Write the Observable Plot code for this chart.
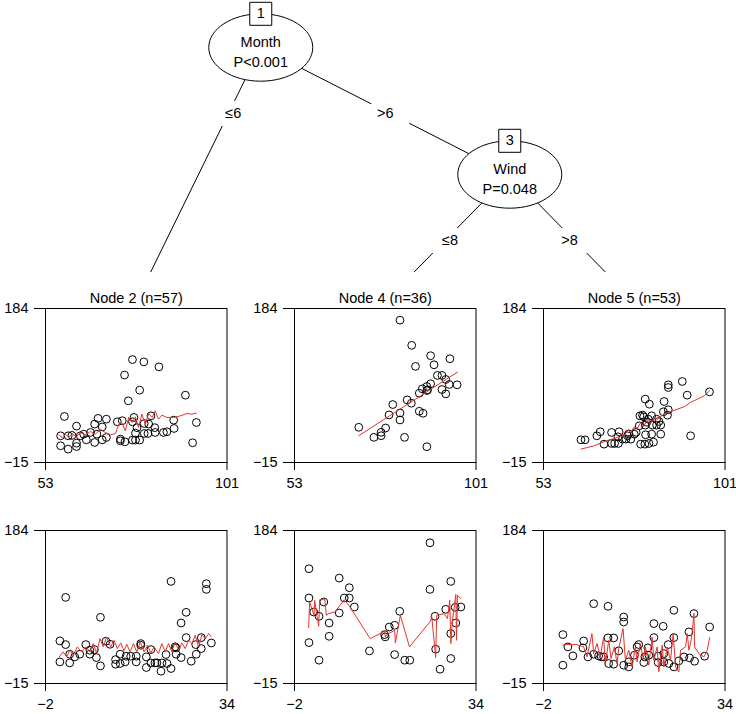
<!DOCTYPE html>
<html><head><meta charset="utf-8">
<script src="https://cdn.jsdelivr.net/npm/d3@7"></script>
<script src="https://cdn.jsdelivr.net/npm/@observablehq/plot@0.6"></script>
<style>
body{margin:0;background:white;}
#fig{position:relative;width:736px;height:714px;overflow:hidden;background:white;font-family:"Liberation Sans",Arial,Helvetica,sans-serif;}
.layer{position:absolute;}
</style></head><body><div id="fig"></div>
<script>
// ---------- tree structure ----------
const innerNodes = [
  {id: 1, col: 0.5, depth: 0, variable: "Month", p: "P<0.001"},
  {id: 3, col: 1.5, depth: 1, variable: "Wind", p: "P=0.048"}
];
const terminalNodes = [
  {id: 2, col: 0, n: 57},
  {id: 4, col: 1, n: 36},
  {id: 5, col: 2, n: 53}
];
const edges = [
  {from: 1, to: 2, label: "≤6"},
  {from: 1, to: 3, label: ">6"},
  {from: 3, to: 4, label: "≤8"},
  {from: 3, to: 5, label: ">8"}
];

// ---------- axes ----------
const ozoneTicks = [-15, 184];
const tempTicks = [53, 101];
const dayTicks = [-2, 34];

// ---------- Node 2 ----------
const node2Temp = [57,59,58,61.2,57,59,61.2,61.2,62.2,63.8,64.9,66,66.9,68,66,68,69.1,69.1,72,72.8,74,72.8,73.9,74.9,76,79,83,77.9,76,76.8,76,76.8,77.9,77.2,79.1,79.1,80.1,82,81.9,80.9,84.2,85.1,86.9,87,90,92.9,91.9,76.4,60,63.1,66.6,73.3,80.3];
const node2TempOzone = [19.5,19.5,44.5,32,6.6,2.3,5.7,10,19.5,14.3,23.8,34.6,42,31,10.9,14.3,17.3,41,37.6,13,11.7,15.2,98,64.7,118,115,108.6,78.5,37.6,23,14,14,14,30,35.4,22.5,22.5,23.8,30,45.3,23.8,24.7,39.7,29,72,36.7,10.5,43.2,20,21.6,21.6,39,34.6];
const node2FitTemp = [56.5,57.4,58.3,59.2,60,61.2,62.2,63.6,64.9,66.2,67.5,68.8,70.2,71.5,72.4,73.2,74.1,75,75.9,76.8,77.6,78.5,79.4,80.3,81.2,82,82.9,83.8,85.1,86.9,88.7,90.4,91.7,92.9];
const node2FitTempOzone = [20.8,17.3,21.6,17.3,22.5,18.2,23.8,20.8,25.1,21.6,28.1,23.8,20.8,22.5,34.6,36.7,25.9,43.2,36.7,44,30.3,47.5,34.6,48.3,43.2,51.8,41,46.2,43.2,43.2,45.3,48.3,47.5,48.8];
const node2Day = [0.85,2,2,0.85,2.8,2.8,3.8,4.8,6,6.8,6.8,7.7,8.1,8.9,8.9,10,10.8,11.9,11.9,12.8,12.8,13.8,14,14.9,16,16,16.9,16.9,18,18,18.9,18.9,19.7,20.1,20.9,21.1,21.9,22.1,22.9,22.9,23.7,23.9,24.9,25.9,24.9,25.9,26.9,27.8,27.9,28.9,28.9,29.9,29.9,30.9,23.9];
const node2DayOzone = [40.4,35.6,97,13.1,11.8,23.1,19.6,23.1,35.6,28.3,23.1,29.1,18.7,7.9,71.1,40,36,16.1,10.1,11,23.1,13.1,20.5,20.5,20.5,13.1,36.9,34.8,19.6,5.8,29.1,11.8,11.8,11.8,1,11.8,22.7,11,4.5,117.8,32.6,23.1,63.7,77.6,18.7,44.7,14,35.6,23.1,30.4,44.7,114.8,107.4,37.7,31.3];
const node2FitDay = [0.72,1.51,2.18,2.84,3.5,4.3,5.16,6.02,6.82,7.48,8.14,8.81,9.47,10.13,10.93,11.59,12.25,12.92,13.58,14.11,14.77,15.44,16.1,16.76,17.56,18.22,18.88,19.55,20.41,21.07,21.74,22.4,23.06,23.72,24.39,25.05,25.71,26.38,27.04,27.7,28.37,29.03,29.69,30.35,30.88];
const node2FitDayOzone = [19.6,26.1,19.6,28.3,21.8,32.6,26.1,32.6,26.1,36.9,24.8,43.4,32.6,45.6,32.6,41.2,30.4,37.8,27.4,36.1,26.1,36.9,26.1,39.1,26.1,34.8,24.8,32.6,23.9,36.9,26.1,36.9,26.1,39.1,28.3,37.8,30.4,41.2,36.9,47.7,32.6,48.6,43.4,49.9,45.6];

// ---------- Node 4 ----------
const node4Temp = [70,74,75.9,75.9,77.1,82.1,88,78,79,80.9,80.9,82.8,83.9,86,87,86,86.8,88,88,89,92,93,93.9,96,92,93,90.8,85,89.9,89,94.1,84,80.9,88.2];
const node4TempOzone = [30.5,17.5,19.6,24,29.6,17.5,5.4,46.5,59.9,49,40,65.9,61.6,51.2,48.6,74.6,80.2,78,83.2,86.7,97.5,92.3,85.8,85.4,79.3,73.7,97.5,109.2,111.3,123,119.1,136.4,168.9,78.9];
const node4FitTemp = [70, 96.1];
const node4FitTempOzone = [19.6, 101.8];
const node4Day = [0.87,0.87,0.87,1.8,2.87,2.87,3.8,4.87,4.87,6.87,6.87,7.87,8.87,8.87,9.87,12.87,15.87,16,16.8,17.87,17.87,18.87,19.87,20.87,24.87,24.87,25.87,26,26.87,28,29,29,29,29.87,30,31];
const node4DayOzone = [134.3,96.2,38.2,78,72.4,15.3,91,63.7,46.4,122.1,76.7,96.2,109.6,96.2,84.5,27.4,48.6,45.6,58.5,60.7,22.6,78.9,15.3,15.3,168,107.4,72.4,29.6,3.6,81.5,117.8,49.9,17.5,84.1,63.7,84.5];
const node4FitDay = [0.8,1,1.87,2,2.8,3,4,4.33,4.8,6,7.87,9,13,15.87,16,16.33,17.87,18,19,20.8,25,25.2,26,26.2,27.67,28.33,28.8,29,29.33,30,30.13,30.33,31];
const node4FitDayOzone = [57.7,91,73.7,93.2,59.4,94,94,73.7,75.9,78,94,84.5,43.4,52.9,45.6,48.6,54.2,37.8,73.7,32.6,66.3,73.7,18.7,73.7,75.9,69.4,93.2,36.9,67.2,100.9,41.2,99.6,95.3];

// ---------- Node 5 ----------
const node5Temp = [62.9,64,67.1,68,69,71,71,71.8,72.8,73,73.9,74.8,75.2,76.1,77,78.3,79.2,78.5,79.9,81,79.9,80.7,81.6,82.9,81.8,82.9,84,80,81.6,84,78.7,79.8,80.9,82.1,84.7,84.9,86,86,86,85.8,89.7,91,91.9,96.9,72.7,75.5,77.5,79.5,80.3,83.5];
const node5TempOzone = [14.3,14.3,19.5,24.7,8.7,23.8,9.6,9.6,9.6,24.7,15.2,15.2,19.5,15.2,21.6,32.4,46.2,45.3,66.9,60.4,33.3,41,45.3,41,33.3,33.3,33.3,20.8,21.6,21.6,8.7,8.7,9.6,11.3,50.5,63.8,53.1,81.9,85.4,46.2,89.7,72,19.5,76.3,18.2,22,24,44,37,38];
const node5FitTemp = [62.9,66.4,69.5,72.6,73.5,74.3,75.2,76.1,77,77.8,78.6,79.6,80.5,81.4,82.3,83.1,84.9,86.6,88.4,90.2,91.9,93.7,95.5,96.9];
const node5FitTempOzone = [2.3,6.6,13,17.3,22,19,27,24,31,29,36,33,40,36,43,41,47.5,50.9,53.9,57,62.6,66.9,71.2,77.6];
const node5Day = [1.85,1.85,2.84,3.83,5.82,5.96,6.82,7.95,7.95,8.94,9.93,10.8,10.8,10.93,11.92,11.92,12.92,13.91,13.91,13.91,14.91,14.91,16.03,16.9,17.9,18.7,18.9,19.9,19.9,20.74,20.74,21.74,21.87,22.73,22.86,23.86,23.86,23.86,24.85,25.85,26.84,26.97,27.84,27.97,29.96,30.95,16.56,18.1,9.47,21.87];
const node5DayOzone = [48.6,8.8,32.6,20.9,31.3,40.4,19.6,88.8,23.1,20.9,19.6,85.4,44.3,11,44.3,10.1,27.4,71.5,65,8.8,6.6,13.1,21.8,35.6,12.3,31.3,21.8,62.9,44.7,20.5,12.3,59.4,23.9,35.6,11,80.2,44.7,6.6,14.4,19.6,52.1,18.3,75.9,14,20.5,58.5,32.6,19.6,19.6,13.1];
const node5FitDay = [1.85,2.64,4.63,5.96,6.62,7.61,7.95,8.61,9.27,9.93,10.27,10.93,11.39,12.06,12.59,12.92,13.78,14.24,14.91,15.57,16.23,16.56,17.23,17.76,18.22,18.88,19.55,19.88,20.54,20.87,21.54,21.87,22.53,23.19,23.72,24.19,24.85,25.18,26.18,26.51,26.84,27.17,27.5,27.84,27.97,28.83,29.82,30.16,30.49,30.95];
const node5FitDayOzone = [34.8,35.6,35.6,32.6,19.6,49.9,23.9,36.9,19.6,45.6,8.8,41.2,17.4,32.6,10.9,30.4,56.4,15.3,28.3,6.6,32.6,13.1,36.9,17.4,32.6,8.8,45.6,15.3,32.6,0.1,34.8,6.6,32.6,15.3,49.9,6.6,0.1,28.3,32.6,49.9,28.3,36.9,52.1,75.9,32.6,23.9,19.6,23.9,28.3,44.7];

// ---------- drawing ----------
const FONT = '"Liberation Sans", Arial, Helvetica, sans-serif';
const FS = 14.5;
const RED = "#e3342f";
const fig = document.getElementById("fig");
const baseStyle = {fontFamily: FONT, fontSize: FS + "px", color: "black", background: "white", overflow: "visible"};

function place(node, left, top) {
  const d = document.createElement("div");
  d.className = "layer";
  d.style.left = left + "px";
  d.style.top = top + "px";
  d.appendChild(node);
  fig.appendChild(d);
}

function ellipseSymbol(rx, ry) {
  const k = 0.5523;
  return {draw(ctx) {
    ctx.moveTo(rx, 0);
    ctx.bezierCurveTo(rx, ry * k, rx * k, ry, 0, ry);
    ctx.bezierCurveTo(-rx * k, ry, -rx, ry * k, -rx, 0);
    ctx.bezierCurveTo(-rx, -ry * k, -rx * k, -ry, 0, -ry);
    ctx.bezierCurveTo(rx * k, -ry, rx, -ry * k, rx, 0);
    ctx.closePath();
  }};
}
function rectSymbol(w, h) {
  return {draw(ctx) { ctx.rect(-w / 2, -h / 2, w, h); }};
}

// tree
const nodeById = new Map();
innerNodes.forEach(n => nodeById.set(n.id, {...n, terminal: false}));
terminalNodes.forEach(n => nodeById.set(n.id, {...n, depth: 2, terminal: true}));
const edgeGeom = edges.map(e => {
  const a = nodeById.get(e.from), b = nodeById.get(e.to);
  const t = 0.52 / (b.depth - a.depth);
  return {
    ...e, x1: a.col, y1: a.depth, x2: b.col, y2: b.depth,
    lx: a.col + (b.col - a.col) * t, ly: a.depth + 0.52,
    side: Math.sign(a.col - b.col)
  };
});
const ERX = 52, ERY = 33.7;

const tree = Plot.plot({
  width: 736, height: 300, margin: 0,
  x: {domain: [0, 2], range: [135.75, 633.75], axis: null},
  y: {domain: [0, 2], range: [47, 301], axis: null},
  style: baseStyle,
  marks: [
    Plot.link(edgeGeom, {x1: "x1", y1: "y1", x2: "x2", y2: "y2", stroke: "black", strokeWidth: 1}),
    Plot.dot(edgeGeom, {x: "lx", y: "ly", symbol: rectSymbol(38, 25), fill: "white", stroke: "none"}),
    Plot.text(edgeGeom.filter(d => d.side > 0), {x: "lx", y: "ly", dx: 5, text: "label", fontSize: FS, fill: "black"}),
    Plot.text(edgeGeom.filter(d => d.side < 0), {x: "lx", y: "ly", dx: -5, text: "label", fontSize: FS, fill: "black"}),
    Plot.dot(innerNodes, {x: "col", y: "depth", symbol: ellipseSymbol(ERX, ERY), fill: "white", stroke: "black", strokeWidth: 1}),
    Plot.text(innerNodes, {x: "col", y: "depth", dy: -5, text: "variable", fontSize: FS, fill: "black"}),
    Plot.text(innerNodes, {x: "col", y: "depth", dy: 15, text: "p", fontSize: FS, fill: "black"}),
    Plot.dot(innerNodes, {x: "col", y: "depth", dy: -ERY, symbol: rectSymbol(22, 23), fill: "white", stroke: "black", strokeWidth: 1}),
    Plot.text(innerNodes, {x: "col", y: "depth", dy: -ERY, text: d => String(d.id), fontSize: FS, fill: "black"})
  ]
});
place(tree, 0, 0);

function zip(xs, ys) { return xs.map((x, i) => ({x, y: ys[i]})); }

const panels = [
  {row: 0, node: 2, px: node2Temp, py: node2TempOzone, fx: node2FitTemp, fy: node2FitTempOzone},
  {row: 0, node: 4, px: node4Temp, py: node4TempOzone, fx: node4FitTemp, fy: node4FitTempOzone},
  {row: 0, node: 5, px: node5Temp, py: node5TempOzone, fx: node5FitTemp, fy: node5FitTempOzone},
  {row: 1, node: 2, px: node2Day, py: node2DayOzone, fx: node2FitDay, fy: node2FitDayOzone},
  {row: 1, node: 4, px: node4Day, py: node4DayOzone, fx: node4FitDay, fy: node4FitDayOzone},
  {row: 1, node: 5, px: node5Day, py: node5DayOzone, fx: node5FitDay, fy: node5FitDayOzone}
];

panels.forEach(p => {
  const term = nodeById.get(p.node);
  const xTicks = p.row === 0 ? tempTicks : dayTicks;
  const top = p.row === 0 ? 272 : 502;
  const mt = p.row === 0 ? 36 : 28;
  const fh = p.row === 0 ? 154 : 153;
  const marks = [
    Plot.frame({stroke: "black", strokeWidth: 1}),
    Plot.ruleX([xTicks[0]], {stroke: "black", strokeWidth: 1}),
    Plot.ruleY([ozoneTicks[0]], {stroke: "black", strokeWidth: 1}),
    Plot.axisY({ticks: ozoneTicks, tickSize: 11, tickPadding: 6, label: null, fill: "black"}),
    Plot.axisX({ticks: xTicks, tickSize: 8, tickPadding: 7, label: null, fill: "black"}),
    Plot.dot(zip(p.px, p.py), {x: "x", y: "y", r: 3.9, stroke: "black", strokeWidth: 1, fill: "none"}),
    Plot.line(zip(p.fx, p.fy), {x: "x", y: "y", stroke: RED, strokeWidth: 1})
  ];
  if (p.row === 0) {
    marks.push(Plot.text([`Node ${term.id} (n=${term.n})`], {frameAnchor: "top", lineAnchor: "middle", dy: -10, text: d => d, fontSize: FS, fill: "black"}));
  }
  const chart = Plot.plot({
    width: 238, height: mt + fh + 30,
    marginLeft: 45, marginRight: 11.5, marginTop: mt, marginBottom: 30,
    x: {domain: xTicks},
    y: {domain: ozoneTicks},
    style: baseStyle,
    marks
  });
  place(chart, term.col * 249, top);
});
</script></body></html>
